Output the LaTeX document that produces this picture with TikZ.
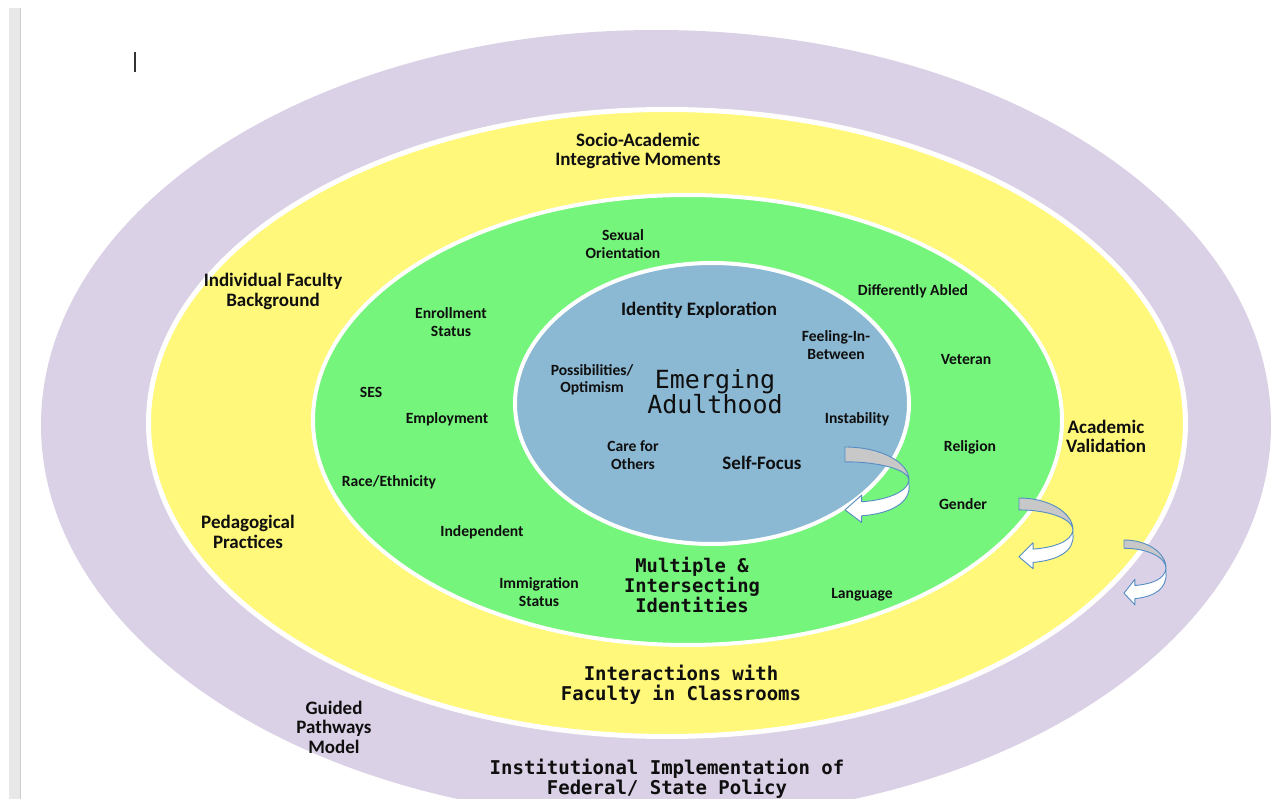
\documentclass[tikz,border=0pt]{standalone}
\usepackage{fontspec}
\newfontfamily\labfont{Carlito}
\newfontfamily\mymono{DejaVu Sans Mono}
\definecolor{ringpurple}{RGB}{219,209,231}
\definecolor{ringyellow}{RGB}{255,248,122}
\definecolor{ringgreen}{RGB}{117,245,123}
\definecolor{coreblue}{RGB}{139,184,211}
\definecolor{arrowline}{RGB}{84,141,196}
\definecolor{arrowgray}{RGB}{200,200,200}
\definecolor{barfill}{RGB}{232,232,232}
\definecolor{baredge}{RGB}{205,205,205}
\definecolor{inktext}{RGB}{15,15,15}
% L T W H band righttip headtip
\newcommand\curvedarrowshape[7]{%
\begin{scope}[shift={(#1,#2)},xscale=#3,yscale=#4]
  \filldraw[arrowback] (0,0) .. controls (0.552,0) and (1,{0.448*#6}) .. (1,#6)
     .. controls (1,{#6-0.552*(#6-#5)}) and (0.552,#5) .. (0,#5) -- cycle;
  \filldraw[arrowfront] (1,#6) .. controls (0.97,{#6+0.17}) and (0.62,{#7-0.13}) .. (0.26,{#7-0.11})
     -- (0.26,{#7-0.2}) -- (0,#7) -- (0.26,{#7+0.17}) -- (0.26,{#7+0.08})
     .. controls (0.72,{#7+0.05}) and (1.03,{#6+0.3}) .. (1,{#6+0.06}) -- cycle;
\end{scope}}
\begin{document}
\begin{tikzpicture}[x=1pt,y=-1pt,
  small/.style={font=\labfont\bfseries\fontsize{15.6}{17.3}\selectfont, align=center, inner sep=0pt, text=inktext},
  big/.style={font=\labfont\bfseries\fontsize{19}{19.5}\selectfont, align=center, inner sep=0pt, text=inktext},
  monobig/.style={font=\mymono\fontsize{25}{24}\selectfont, align=center, inner sep=0pt, text=inktext},
  monomid/.style={font=\mymono\bfseries\fontsize{18.8}{18}\selectfont, align=center, inner sep=0pt, text=inktext},
  monolow/.style={font=\mymono\bfseries\fontsize{19}{20}\selectfont, align=center, inner sep=0pt, text=inktext},
  arrowback/.style={fill=arrowgray, draw=arrowline, line width=0.9pt, line join=round},
  arrowfront/.style={fill=white, draw=arrowline, line width=0.9pt, line join=round}]
\useasboundingbox (0,0) rectangle (1275,799);
\clip (0,0) rectangle (1275,799);
\fill[white] (0,0) rectangle (1275,799);
% page edge bar
\fill[barfill] (9,8) rectangle (21,799);
\fill[baredge] (19.5,8) rectangle (21,799);
% text cursor
\draw[line width=1.4pt, black!80] (135,52) -- (135,72);
% rings
\fill[ringpurple] (656,425) ellipse [x radius=615pt, y radius=395pt];
\filldraw[fill=ringyellow, draw=white, line width=5pt] (667,423) ellipse [x radius=518.5pt, y radius=313.5pt];
\filldraw[fill=ringgreen, draw=white, line width=4pt] (687.5,420) ellipse [x radius=374.5pt, y radius=225pt];
\filldraw[fill=coreblue, draw=white, line width=4pt] (712,403.5) ellipse [x radius=197pt, y radius=140.5pt];
% curved arrows
\curvedarrowshape{845}{447}{64}{74}{0.2}{0.45}{0.85}
\curvedarrowshape{1019}{498}{54}{70}{0.17}{0.46}{0.84}
\curvedarrowshape{1124}{540}{42}{69}{0.12}{0.41}{0.77}
% outer/yellow ring labels
\node[big] (socio) at (638,151) {Socio-Academic\\Integrative Moments};
\node[big] (indiv) at (273,291.5) {Individual Faculty\\Background};
\node[big] (pedag) at (248,532.1) {Pedagogical\\Practices};
\node[big] (acad) at (1106,436.6) {Academic\\Validation};
\node[big] (guided) at (334,727) {Guided\\Pathways\\Model};
\node[monolow] (interact) at (681,684.5) {Interactions with\\Faculty in Classrooms};
\node[monolow] (instit) at (667,779) {Institutional Implementation of\\Federal/ State Policy};
% green ring labels
\node[small] (sexual) at (623,244) {Sexual\\Orientation};
\node[small] (enroll) at (451,322) {Enrollment\\Status};
\node[small] (immig) at (539,592) {Immigration\\Status};
\node[small,anchor=base] (diff) at (913,296) {Differently Abled};
\node[small,anchor=base] (veteran) at (966,365) {Veteran};
\node[small,anchor=base] (religion) at (970,452) {Religion};
\node[small,anchor=base] (gender) at (963,509.5) {Gender};
\node[small,anchor=base] (language) at (862,598.5) {Language};
\node[small,anchor=base] (ses) at (371,398) {SES};
\node[small,anchor=base] (employ) at (447,424) {Employment};
\node[small,anchor=base] (race) at (389,486) {Race/Ethnicity};
\node[small,anchor=base] (indep) at (482,536) {Independent};
\node[monomid] (multiple) at (692,585) {Multiple \&\\Intersecting\\Identities};
% core labels
\node[big,anchor=base] (idexp) at (699,315.5) {Identity Exploration};
\node[small] (feeling) at (836,345) {Feeling-In-\\Between};
\node[small] (possib) at (592,379.5) {Possibilities/\\Optimism};
\node[small,anchor=base] (instab) at (857,424) {Instability};
\node[small] (care) at (633,455) {Care for\\Others};
\node[big,anchor=base] (selff) at (762,469.5) {Self-Focus};
\node[monobig] (emerging) at (715,391.8) {Emerging\\Adulthood};
\end{tikzpicture}
\end{document}
